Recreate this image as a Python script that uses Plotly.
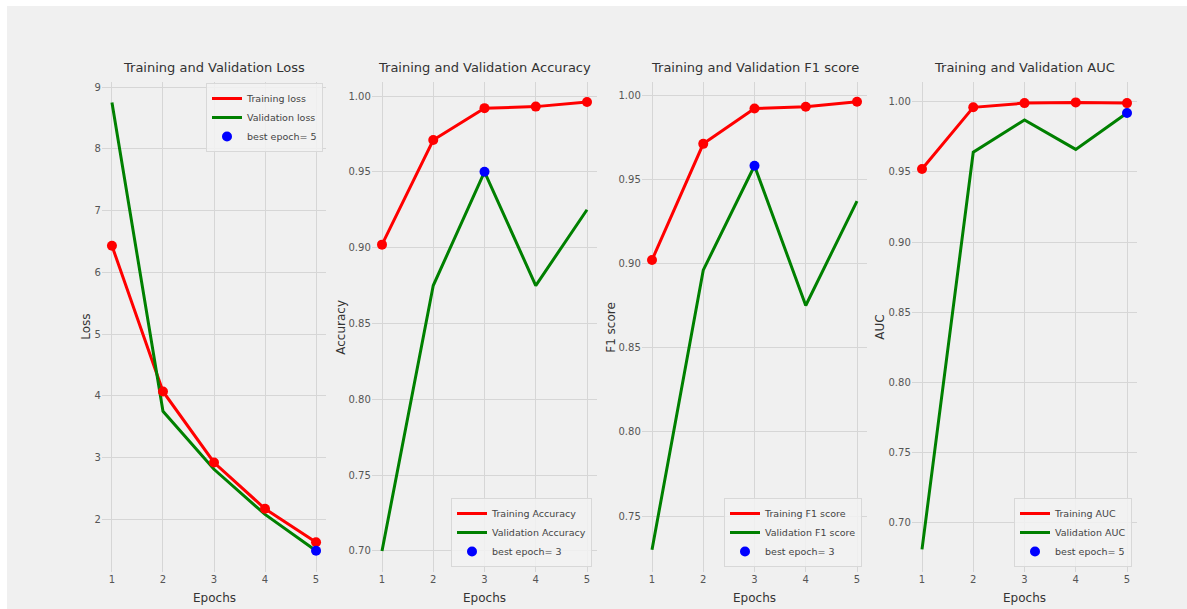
import plotly.graph_objects as go

epochs = [1, 2, 3, 4, 5]

loss_train = [6.43, 4.07, 2.92, 2.17, 1.63]
loss_val = [8.75, 3.75, 2.81, 2.08, 1.49]

acc_train = [0.902, 0.971, 0.992, 0.993, 0.996]
acc_val = [0.700, 0.875, 0.950, 0.875, 0.925]

f1_train = [0.902, 0.971, 0.992, 0.993, 0.996]
f1_val = [0.730, 0.896, 0.958, 0.875, 0.937]

auc_train = [0.952, 0.996, 0.999, 0.9995, 0.999]
auc_val = [0.681, 0.964, 0.987, 0.966, 0.992]

titles = ["Training and Validation Loss", "Training and Validation Accuracy",
          "Training and Validation F1 score", "Training and Validation AUC"]
ylabels = ["Loss", "Accuracy", "F1 score", "AUC"]
train_names = ["Training loss", "Training Accuracy", "Training F1 score", "Training AUC"]
val_names = ["Validation loss", "Validation Accuracy", "Validation F1 score", "Validation AUC"]

W, H = 1187, 609
FONT = "DejaVu Sans"
BG = "#f0f0f0"
GRID = "#d6d6d6"

panels = [
    dict(tr=loss_train, va=loss_val, best="min", yr=[1.147, 9.081], dtick=1, fmt="d",
         px=(101.75, 326.25), leg=dict(x=323, y=83, xa="right", ya="top"), ysh=-16),
    dict(tr=acc_train, va=acc_val, best="max", yr=[0.68615, 1.00923], dtick=0.05, fmt=".2f",
         px=(371.75, 597.25), leg=dict(x=592, y=567, xa="right", ya="bottom"), ysh=-31),
    dict(tr=f1_train, va=f1_val, best="max", yr=[0.71675, 1.00772], dtick=0.05, fmt=".2f",
         px=(641.75, 867.25), leg=dict(x=862, y=567, xa="right", ya="bottom"), ysh=-31),
    dict(tr=auc_train, va=auc_val, best="max", yr=[0.66487, 1.01404], dtick=0.05, fmt=".2f",
         px=(911.75, 1137.25), leg=dict(x=1132, y=567, xa="right", ya="bottom"), ysh=-32),
]

top_px, bot_px = 82, 572
ydom = [1 - bot_px / H, 1 - top_px / H]

fig = go.Figure()
layout = dict(
    width=W, height=H,
    margin=dict(l=0, r=0, t=0, b=0),
    paper_bgcolor="white",
    plot_bgcolor="rgba(0,0,0,0)",
    font=dict(family=FONT, color="#444444"),
    showlegend=True,
    shapes=[dict(type="rect", xref="paper", yref="paper", x0=7 / W, x1=1, y0=0, y1=1 - 6 / H,
                 fillcolor=BG, line=dict(width=0), layer="below")],
    annotations=[],
)

for i, p in enumerate(panels):
    n = i + 1
    xa = "x" if n == 1 else f"x{n}"
    ya = "y" if n == 1 else f"y{n}"
    lg = "legend" if n == 1 else f"legend{n}"
    if p["best"] == "min":
        bi = min(range(len(p["va"])), key=lambda k: p["va"][k])
    else:
        bi = max(range(len(p["va"])), key=lambda k: p["va"][k])

    fig.add_trace(go.Scatter(x=epochs, y=p["tr"], mode="lines", name=train_names[i],
                             line=dict(color="red", width=3), xaxis=xa, yaxis=ya, legend=lg))
    fig.add_trace(go.Scatter(x=epochs, y=p["va"], mode="lines", name=val_names[i],
                             line=dict(color="green", width=3), xaxis=xa, yaxis=ya, legend=lg))
    fig.add_trace(go.Scatter(x=epochs, y=p["tr"], mode="markers", showlegend=False,
                             marker=dict(color="red", size=10), xaxis=xa, yaxis=ya, legend=lg))
    fig.add_trace(go.Scatter(x=[epochs[bi]], y=[p["va"][bi]], mode="markers",
                             name=f"best epoch= {epochs[bi]}",
                             marker=dict(color="blue", size=10), xaxis=xa, yaxis=ya, legend=lg))

    xk = "xaxis" if n == 1 else f"xaxis{n}"
    yk = "yaxis" if n == 1 else f"yaxis{n}"
    layout[xk] = dict(domain=[p["px"][0] / W, p["px"][1] / W], anchor=ya,
                      range=[0.8, 5.2], tickmode="array", tickvals=epochs,
                      showgrid=True, gridcolor=GRID, gridwidth=1, zeroline=False,
                      showline=False, ticks="", tickfont=dict(size=10, color="#555555"))
    layout[yk] = dict(domain=ydom, anchor=xa, range=p["yr"], dtick=p["dtick"],
                      tickformat=p["fmt"], showgrid=True, gridcolor=GRID, gridwidth=1,
                      zeroline=False, showline=False, ticks="",
                      tickfont=dict(size=10, color="#555555"))
    L = p["leg"]
    layout[lg] = dict(x=L["x"] / W, y=1 - L["y"] / H, xanchor=L["xa"], yanchor=L["ya"],
                      bgcolor="rgba(242,242,242,0.85)", bordercolor="#d8d8d8", borderwidth=1,
                      font=dict(size=9.5, color="#444444", family=FONT),
                      itemwidth=30, tracegroupgap=0)

    xd = f"{xa} domain"
    yd = f"{ya} domain"
    layout["annotations"] += [
        dict(text=titles[i], xref=xd, yref=yd, x=0.5, y=1, xanchor="center", yanchor="bottom",
             yshift=5, showarrow=False, font=dict(size=13, color="#333333", family=FONT)),
        dict(text="Epochs", xref=xd, yref=yd, x=0.5, y=0, xanchor="center", yanchor="top",
             yshift=-17, showarrow=False, font=dict(size=12, color="#333333", family=FONT)),
        dict(text=ylabels[i], xref=xd, yref=yd, x=0, y=0.5, xanchor="center", yanchor="middle",
             xshift=p["ysh"], textangle=-90, showarrow=False,
             font=dict(size=12, color="#333333", family=FONT)),
    ]

fig.update_layout(**layout)
fig.write_html("out.html")
